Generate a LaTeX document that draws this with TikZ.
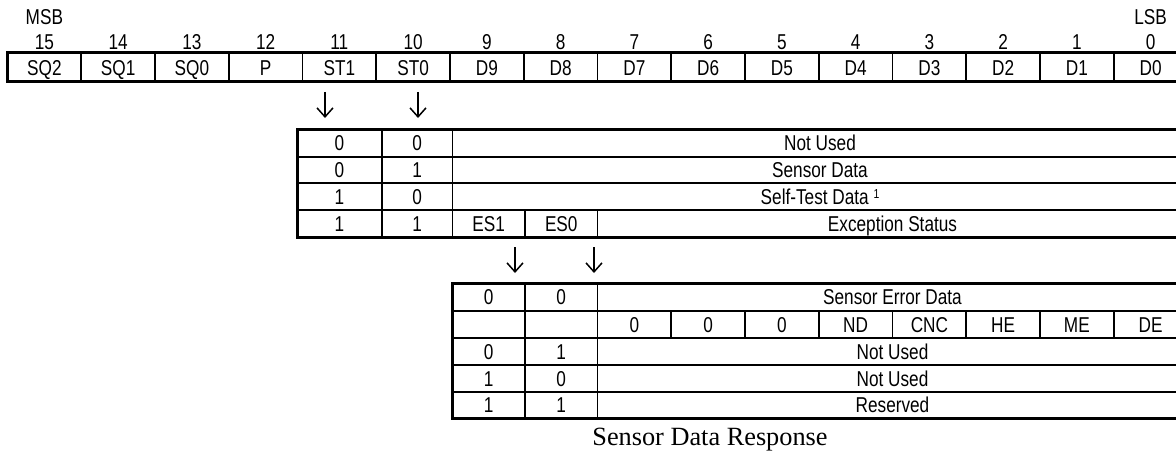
\documentclass[tikz,border=0pt]{standalone}
\usepackage{fontspec}
\setmainfont{Liberation Sans}[FakeStretch=0.8]
\newfontfamily\capfont{Liberation Serif}
\usetikzlibrary{arrows.meta}
\begin{document}
\begin{tikzpicture}[x=1pt,y=-1pt,
  thickrule/.style={line width=3pt},
  thinrule/.style={line width=1.6pt},
  txt/.style={font=\fontsize{21.5}{24}\selectfont, inner sep=0pt, text height=15.4pt, text depth=0pt, anchor=center},
  captxt/.style={font=\capfont\fontsize{26.3}{30}\selectfont, inner sep=0pt, text height=17.4pt, text depth=0pt, anchor=center},
  downarrow/.style={line width=1.5pt, -{Straight Barb[length=9pt,width=16pt,line width=1.5pt]}}]
\useasboundingbox (0,0) rectangle (1176,452);
% ---------- top register ----------
\foreach \k in {1,...,15} {\draw[thinrule] (7.5+73.75*\k,53) -- (7.5+73.75*\k,82);}
\draw[thickrule] (1195,53) -- (7.5,53) -- (7.5,82) -- (1195,82);
\foreach \i/\lbl in {0/SQ2,1/SQ1,2/SQ0,3/P,4/ST1,5/ST0,6/D9,7/D8,8/D7,9/D6,10/D5,11/D4,12/D3,13/D2,14/D1,15/D0} {
  \pgfmathtruncatemacro{\bit}{15-\i}
  \node[txt] (r\i) at (7.5+73.75*\i+36.875,67.5) {\lbl};
  \node[txt] (n\i) at (7.5+73.75*\i+36.875,41.7) {\bit};
}
\node[txt] (msb) at (n0.center |- 0,16.7) {MSB};
\node[txt] (lsb) at (n15.center |- 0,16.7) {LSB};
% ---------- arrows ----------
\coordinate (a1s) at (325,92); \coordinate (a1e) at (325,118);
\coordinate (a2s) at (418,92); \coordinate (a2e) at (418,118);
\draw[downarrow] (a1s) -- (a1e);
\draw[downarrow] (a2s) -- (a2e);
% ---------- status table ----------
\foreach \y in {157,183,210} {\draw[thinrule] (297,\y) -- (1195,\y);}
\foreach \x in {382,452.5} {\draw[thinrule] (\x,129) -- (\x,237);}
\foreach \x in {525,597.5} {\draw[thinrule] (\x,210) -- (\x,237);}
\draw[thickrule] (1195,129) -- (297,129) -- (297,237) -- (1195,237);
\foreach \j/\a/\b/\d in {0/0/0/Not Used,1/0/1/Sensor Data,2/1/0/{Self-Test Data {\fontsize{13}{13}\selectfont\raisebox{6pt}{1}}}} {
  \node[txt] (s\j a) at (339.5,143+26.8*\j) {\a};
  \node[txt] (s\j b) at (417.25,143+26.8*\j) {\b};
  \node[txt] (s\j d) at (820,143+26.8*\j) {\d};
}
\node[txt] (s3a) at (339.5,223.5) {1};
\node[txt] (s3b) at (417.25,223.5) {1};
\node[txt] (es1) at (488.75,223.5) {ES1};
\node[txt] (es0) at (561.25,223.5) {ES0};
\node[txt] (exc) at (892.5,223.5) {Exception Status};
% ---------- arrows ----------
\coordinate (a3s) at (515,247); \coordinate (a3e) at (515,273);
\coordinate (a4s) at (594,247); \coordinate (a4e) at (594,273);
\draw[downarrow] (a3s) -- (a3e);
\draw[downarrow] (a4s) -- (a4e);
% ---------- exception table ----------
\foreach \y in {311,338,365,392} {\draw[thinrule] (452.5,\y) -- (1195,\y);}
\foreach \x in {525,597.5} {\draw[thinrule] (\x,283) -- (\x,418);}
\foreach \k in {9,...,15} {\draw[thinrule] (7.5+73.75*\k,311) -- (7.5+73.75*\k,338);}
\draw[thickrule] (1195,283) -- (452.5,283) -- (452.5,418) -- (1195,418);
\node[txt] (e0a) at (488.75,297) {0};
\node[txt] (e0b) at (561.25,297) {0};
\node[txt] (e0d) at (892.5,297) {Sensor Error Data};
\foreach \i/\lbl in {8/0,9/0,10/0,11/ND,12/CNC,13/HE,14/ME,15/DE} {
  \node[txt] (f\i) at (7.5+73.75*\i+36.875,324.5) {\lbl};
}
\foreach \j/\a/\b/\d in {0/0/1/Not Used,1/1/0/Not Used,2/1/1/Reserved} {
  \node[txt] (g\j a) at (488.75,351.5+26.8*\j) {\a};
  \node[txt] (g\j b) at (561.25,351.5+26.8*\j) {\b};
  \node[txt] (g\j d) at (892.5,351.5+26.8*\j) {\d};
}
% ---------- caption ----------
\node[captxt] (cap) at (710,436.5) {Sensor Data Response};
\end{tikzpicture}
\end{document}
